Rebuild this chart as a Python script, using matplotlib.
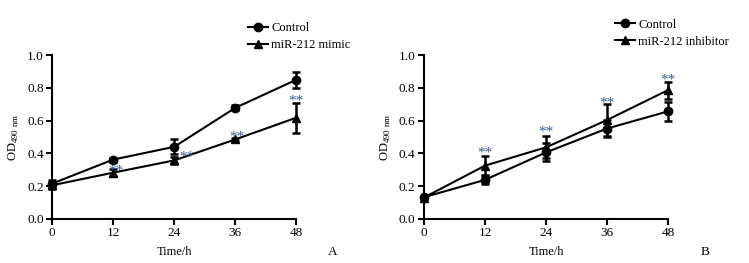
import numpy as np
import matplotlib
matplotlib.use("Agg")
import matplotlib.pyplot as plt
from matplotlib.lines import Line2D

plt.rcParams["font.family"] = ["Liberation Serif", "DejaVu Serif"]
plt.rcParams["mathtext.fontset"] = "custom"
plt.rcParams["mathtext.rm"] = "Liberation Serif"

# ---------------------------------------------------------------------------
# Data
# ---------------------------------------------------------------------------
hours = [0, 12, 24, 36, 48]

# Panel A: miR-212 mimic
ctrl_a = [0.215, 0.362, 0.440, 0.678, 0.850]
ctrl_a_err = [0.020, 0.012, 0.045, 0.015, 0.050]
mimic_a = [0.205, 0.282, 0.357, 0.485, 0.618]
mimic_a_err = [0.020, 0.020, 0.020, 0.010, 0.092]
stars_a_y = [0.29, 0.38, 0.50, 0.72]

# Panel B: miR-212 inhibitor
ctrl_b = [0.132, 0.238, 0.406, 0.552, 0.657]
ctrl_b_err = [0.010, 0.025, 0.055, 0.050, 0.057]
inhib_b = [0.130, 0.325, 0.437, 0.604, 0.787]
inhib_b_err = [0.010, 0.060, 0.067, 0.098, 0.052]
stars_b_y = [0.40, 0.53, 0.71, 0.85]

star_col = "#3d5a98"

fig = plt.figure(figsize=(7.49, 2.63), dpi=100)


def panel(left, ctrl, ctrl_err, treat, treat_err, treat_label, star_y,
          star_dx, letter, leg_x, leg_y):
    ax = fig.add_axes([left, 0.168, 0.326, 0.622])
    kw = dict(color="black", lw=1.5, capsize=3, capthick=1.8, elinewidth=1.8,
              clip_on=False, zorder=3)
    ax.errorbar(hours, ctrl, yerr=ctrl_err, marker="o", ms=6, **kw)
    ax.errorbar(hours, treat, yerr=treat_err, marker="^", ms=6, **kw)
    for x, y, dx in zip(hours[1:], star_y, star_dx):
        ax.text(x + dx, y, "**", color=star_col, fontsize=11,
                ha="center", va="center", zorder=6)

    ax.set_xlim(0, 48)
    ax.set_ylim(0, 1.0)
    ax.set_xticks(hours)
    ax.set_yticks(np.arange(0, 1.01, 0.2))
    ax.set_yticklabels([f"{v:.1f}" for v in np.arange(0, 1.01, 0.2)])
    for s in ("top", "right"):
        ax.spines[s].set_visible(False)
    for s in ("left", "bottom"):
        ax.spines[s].set_linewidth(1.5)
    ax.tick_params(direction="out", length=4, width=1.5, labelsize=9.5,
                   pad=2)
    ax.set_xlabel("Time/h", fontsize=9, labelpad=5)
    ax.set_ylabel(r"OD$_{\mathregular{490\ nm}}$", fontsize=9, labelpad=4)
    ax.text(1.15, -0.2, letter, transform=ax.transAxes, fontsize=9.5,
            ha="center", va="center")
    handles = [Line2D([], [], color="black", lw=1.5, marker="o", ms=6),
               Line2D([], [], color="black", lw=1.5, marker="^", ms=6)]
    ax.legend(handles, ["Control", treat_label],
              loc="lower left", bbox_to_anchor=(leg_x, leg_y), frameon=False,
              fontsize=9, handlelength=1.6, handletextpad=0.3,
              labelspacing=0.4, borderaxespad=0)
    return ax


panel(0.0695, ctrl_a, ctrl_a_err, mimic_a, mimic_a_err, "miR-212 mimic",
      stars_a_y, [0.6, 2.5, 0.3, 0.0], "A", 0.78, 0.995)
panel(0.566, ctrl_b, ctrl_b_err, inhib_b, inhib_b_err, "miR-212 inhibitor",
      stars_b_y, [0.0, 0.0, 0.0, 0.0], "B", 0.76, 1.015)

fig.savefig("out.png", dpi=100)
